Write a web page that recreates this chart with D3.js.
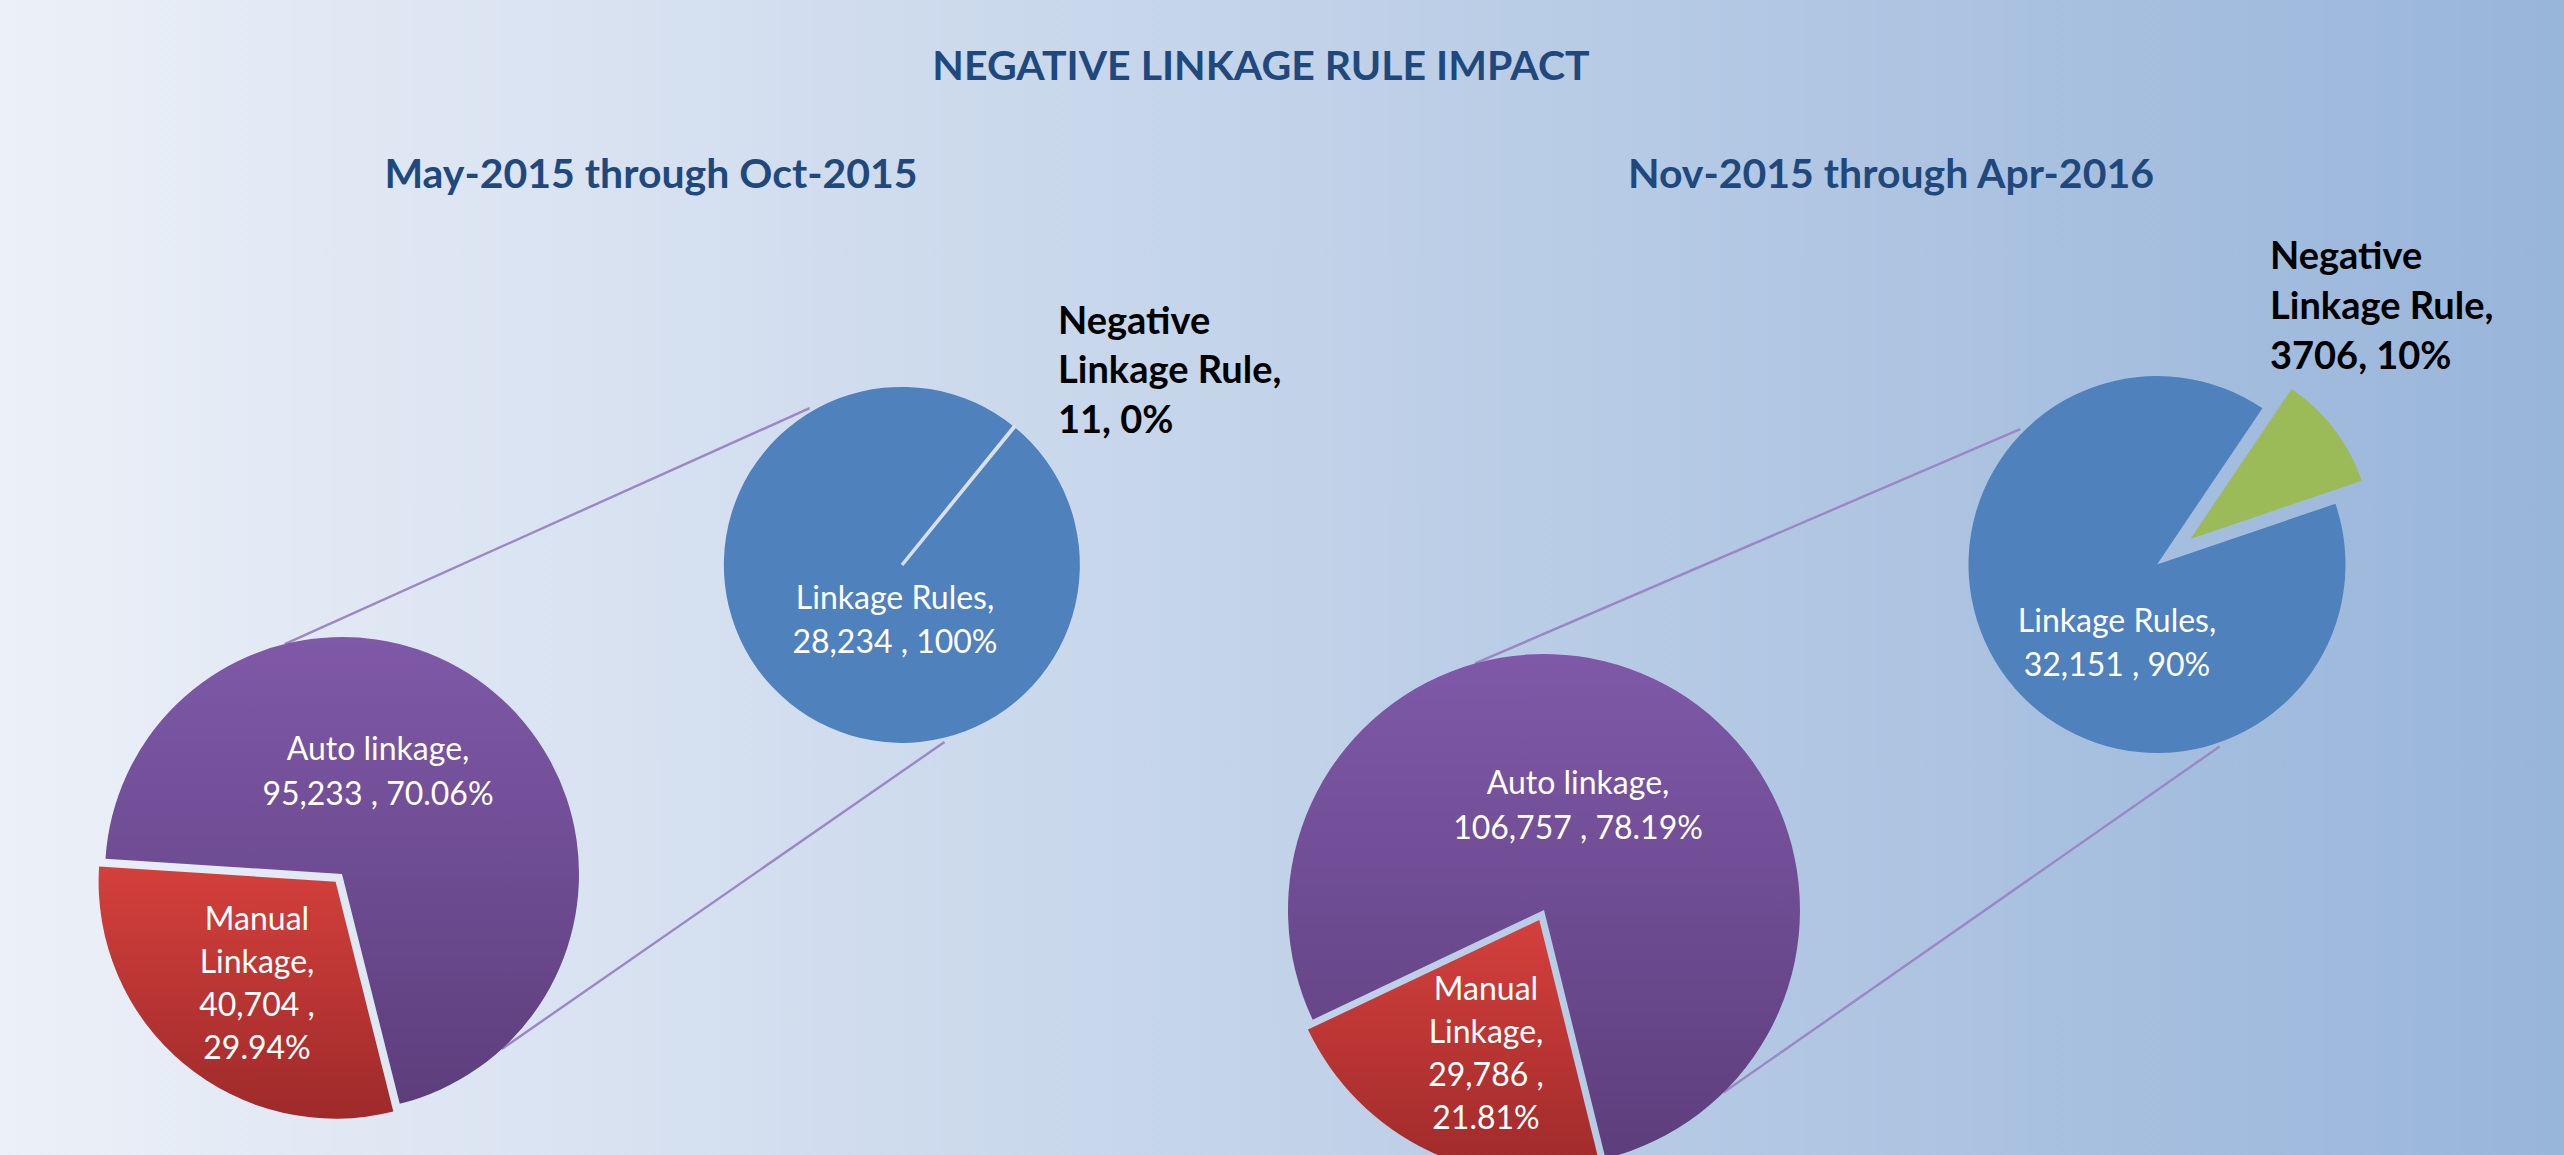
<!DOCTYPE html>
<html>
<head>
<meta charset="utf-8">
<script src="https://cdn.jsdelivr.net/npm/d3@7"></script>
<style>
  html, body { margin: 0; padding: 0; overflow: hidden; background: #fff; }
  svg { display: block; }
</style>
</head>
<body>
<script>
// ---------------- DATA ----------------
const chartTitle = "NEGATIVE LINKAGE RULE IMPACT";
const periods = ["May-2015 through Oct-2015", "Nov-2015 through Apr-2016"];

const mainCategories = ["Manual Linkage", "Auto linkage"];
const mainValuesP1 = [40704, 95233];
const mainValuesP2 = [29786, 106757];
const mainPercentsP1 = ["29.94%", "70.06%"];
const mainPercentsP2 = ["21.81%", "78.19%"];

const subCategories = ["Negative Linkage Rule", "Linkage Rules"];
const subValuesP1 = [11, 28234];
const subValuesP2 = [3706, 32151];
const subPercentsP1 = ["0%", "100%"];
const subPercentsP2 = ["10%", "90%"];

// ---------------- LAYOUT ----------------
const W = 2564, H = 1155;
const FONT = "Lato, 'Open Sans', 'DejaVu Sans', sans-serif";
const layout = {
  title: { x: 1261, y: 80, size: 41 },
  subtitles: [{ x: 651, y: 188 }, { x: 1891, y: 188 }],
  subtitleSize: 41,
  main: [
    { cx: 342, cy: 874, r: 237, start: 165.9, explode: 10 },
    { cx: 1544, cy: 910, r: 256, start: 166.1, explode: 11 }
  ],
  sub: [
    { cx: 902, cy: 565, r: 178, start: 39, explode: 0, explodeR: 178, hairline: true },
    { cx: 2157, cy: 564.5, r: 188.5, start: 34, explode: 42, explodeR: 181, hairline: false }
  ],
  // connector angles in degrees (0 = 12 o'clock, clockwise)
  connectors: [
    { mainUp: 346, subUp: 329.5, mainLo: 137.6, subLo: 166.5 },
    { mainUp: 344.4, subUp: 314.7, mainLo: 135.5, subLo: 161 }
  ],
  mainLabel: [
    { auto: { x: 378, y: 760, lh: 44.6 }, manual: { x: 257, y: 930, lh: 43.1 } },
    { auto: { x: 1578, y: 794, lh: 44.8 }, manual: { x: 1486, y: 999.5, lh: 43 } }
  ],
  subLabel: [
    { rules: { x: 895, y: 608.5, lh: 44.2 }, neg: { x: 1058, y: 333.5, lh: 49.8 } },
    { rules: { x: 2117, y: 631.6, lh: 44 }, neg: { x: 2270, y: 269, lh: 50 } }
  ],
  inSize: 32,
  negSize: 38
};

const colors = {
  titleText: "#1F497D",
  bgLeft: "#ECF0F8",
  bgRight: "#98B5DA",
  purpleTop: "#7F59A8", purpleBot: "#5D3E7C",
  redTop: "#D4403C", redBot: "#9E2A2A",
  blue: "#4F81BD",
  green: "#9BBB59",
  connector: "#9B87C4",
  hairline: "#D8E0EB"
};

// ---------------- DRAW ----------------
const rad = d => d * Math.PI / 180;
const svg = d3.select("body").append("svg").attr("width", W).attr("height", H);
const defs = svg.append("defs");

const bg = defs.append("linearGradient").attr("id", "bg").attr("x1", 0).attr("y1", 0).attr("x2", 1).attr("y2", 0);
bg.append("stop").attr("offset", 0).attr("stop-color", colors.bgLeft);
bg.append("stop").attr("offset", 1).attr("stop-color", colors.bgRight);

function vGrad(id, top, bot) {
  const g = defs.append("linearGradient").attr("id", id).attr("x1", 0).attr("y1", 0).attr("x2", 0).attr("y2", 1);
  g.append("stop").attr("offset", 0).attr("stop-color", top);
  g.append("stop").attr("offset", 1).attr("stop-color", bot);
}
vGrad("gPurple", colors.purpleTop, colors.purpleBot);
vGrad("gRed", colors.redTop, colors.redBot);

svg.append("rect").attr("width", W).attr("height", H).attr("fill", "url(#bg)");

// Titles
svg.append("text")
  .attr("x", layout.title.x).attr("y", layout.title.y)
  .attr("text-anchor", "middle")
  .attr("font-family", FONT).attr("font-weight", 700)
  .attr("font-size", layout.title.size)
  .attr("fill", colors.titleText)
  .text(chartTitle);

svg.selectAll("text.period").data(periods).enter().append("text")
  .attr("class", "period")
  .attr("x", (d, i) => layout.subtitles[i].x).attr("y", (d, i) => layout.subtitles[i].y)
  .attr("text-anchor", "middle")
  .attr("font-family", FONT).attr("font-weight", 700)
  .attr("font-size", layout.subtitleSize)
  .attr("fill", colors.titleText)
  .text(d => d);

const fmt = d3.format(",");
const periodsData = [
  { main: mainValuesP1, mainPct: mainPercentsP1, sub: subValuesP1, subPct: subPercentsP1 },
  { main: mainValuesP2, mainPct: mainPercentsP2, sub: subValuesP2, subPct: subPercentsP2 }
];

const pt = (cx, cy, r, deg) => [cx + r * Math.sin(rad(deg)), cy - r * Math.cos(rad(deg))];

periodsData.forEach((pd, i) => {
  const M = layout.main[i], S = layout.sub[i], C = layout.connectors[i];

  // connector lines (behind pies)
  const conn = svg.append("g");
  [[C.mainUp, C.subUp], [C.mainLo, C.subLo]].forEach(([a, b]) => {
    const p1 = pt(M.cx, M.cy, M.r, a), p2 = pt(S.cx, S.cy, S.r + 4, b);
    conn.append("line")
      .attr("x1", p1[0]).attr("y1", p1[1]).attr("x2", p2[0]).attr("y2", p2[1])
      .attr("stroke", colors.connector).attr("stroke-width", 2.4);
  });

  // main pie
  const mainPie = d3.pie().sort(null).value(d => d.value)
    .startAngle(rad(M.start)).endAngle(rad(M.start) + 2 * Math.PI);
  const mainArcs = mainPie(mainCategories.map((c, k) => ({ cat: c, value: pd.main[k], pct: pd.mainPct[k] })));
  const arcM = d3.arc().innerRadius(0).outerRadius(M.r);
  const gM = svg.append("g").attr("transform", `translate(${M.cx},${M.cy})`);
  gM.selectAll("path").data(mainArcs).enter().append("path")
    .attr("d", arcM)
    .attr("fill", (d, k) => k === 0 ? "url(#gRed)" : "url(#gPurple)")
    .attr("transform", (d, k) => {
      if (k !== 0) return null;
      const mid = (d.startAngle + d.endAngle) / 2;
      return `translate(${M.explode * Math.sin(mid)},${-M.explode * Math.cos(mid)})`;
    });

  // sub pie
  const subPie = d3.pie().sort(null).value(d => d.value)
    .startAngle(rad(S.start)).endAngle(rad(S.start) + 2 * Math.PI);
  const subArcs = subPie(subCategories.map((c, k) => ({ cat: c, value: pd.sub[k], pct: pd.subPct[k] })));
  const gS = svg.append("g").attr("transform", `translate(${S.cx},${S.cy})`);
  gS.selectAll("path").data(subArcs).enter().append("path")
    .attr("d", (d, k) => d3.arc().innerRadius(0).outerRadius(k === 0 ? S.explodeR : S.r)(d))
    .attr("fill", (d, k) => k === 0 ? colors.green : colors.blue)
    .attr("stroke", (d, k) => (k === 0 && S.hairline) ? colors.hairline : "none")
    .attr("stroke-width", 3.5)
    .attr("transform", (d, k) => {
      if (k !== 0 || !S.explode) return null;
      const mid = (d.startAngle + d.endAngle) / 2;
      return `translate(${S.explode * Math.sin(mid)},${-S.explode * Math.cos(mid)})`;
    });
  gS.selectAll("path").filter((d, k) => k === 0).raise();

  // labels
  function lines(g, linesArr, pos, opts) {
    const t = g.append("text")
      .attr("font-family", FONT)
      .attr("font-size", opts.size)
      .attr("font-weight", opts.weight)
      .attr("fill", opts.fill)
      .attr("text-anchor", opts.anchor);
    linesArr.forEach((s, j) => {
      t.append("tspan").attr("x", pos.x).attr("y", pos.y + j * pos.lh).text(s);
    });
  }
  const ML = layout.mainLabel[i], SL = layout.subLabel[i];
  const white = { size: layout.inSize, weight: 400, fill: "#FFFFFF", anchor: "middle" };
  const manualWords = mainCategories[0].split(" ");
  lines(svg, [mainCategories[1] + ",", fmt(pd.main[1]) + " , " + pd.mainPct[1]], ML.auto, white);
  lines(svg, [manualWords[0], manualWords[1] + ",", fmt(pd.main[0]) + " ,", pd.mainPct[0]], ML.manual, white);
  lines(svg, [subCategories[1] + ",", fmt(pd.sub[1]) + " , " + pd.subPct[1]], SL.rules, white);
  const negWords = subCategories[0].split(" ");
  lines(svg, [negWords[0], negWords.slice(1).join(" ") + ",", pd.sub[0] + ", " + pd.subPct[0]], SL.neg,
    { size: layout.negSize, weight: 700, fill: "#000000", anchor: "start" });
});
</script>
</body>
</html>
